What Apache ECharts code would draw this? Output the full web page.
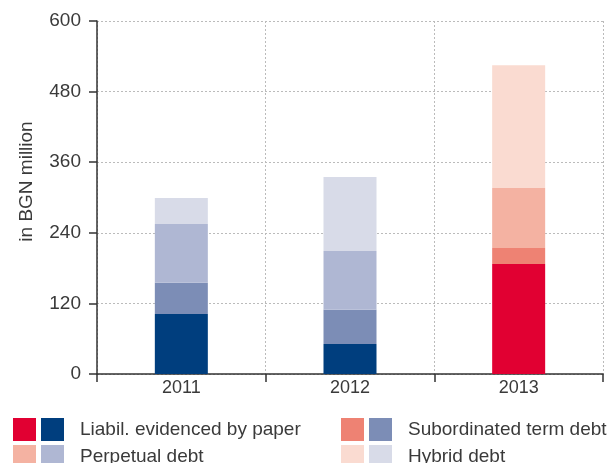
<!DOCTYPE html>
<html>
<head>
<meta charset="utf-8">
<script src="https://cdn.jsdelivr.net/npm/echarts@6/dist/echarts.min.js"></script>
<style>
html,body{margin:0;padding:0;background:#fff;}
#chart{width:611px;height:463px;}
</style>
</head>
<body>
<div id="chart"></div>
<script>
var categories = ['2011', '2012', '2013'];
var seriesNames = ['Liabil. evidenced by paper', 'Subordinated term debt', 'Perpetual debt', 'Hybrid debt'];
var paperValues = [102, 51, 187];
var subordinatedValues = [53, 58, 27];
var perpetualValues = [100, 100, 102];
var hybridValues = [44, 126, 209];
var yTicks = [0, 120, 240, 360, 480, 600];
var blueColors = ['#003e7e', '#7c8db6', '#afb7d3', '#d8dbe8'];
var redColors = ['#e10032', '#ee8273', '#f4b2a2', '#fadbd1'];
var redCategory = '2013';

var allValues = [paperValues, subordinatedValues, perpetualValues, hybridValues];
var FONT = 'Liberation Sans';
var TXT = '#3a3a3a';

var series = [];
seriesNames.forEach(function (name, i) {
  series.push({
    name: name,
    type: 'bar',
    stack: 'total',
    barWidth: 53,
    itemStyle: { color: blueColors[i] },
    data: categories.map(function (c, j) { return c === redCategory ? '-' : allValues[i][j]; })
  });
});
seriesNames.forEach(function (name, i) {
  series.push({
    name: name + ' ',
    type: 'bar',
    stack: 'total',
    barWidth: 53,
    itemStyle: { color: redColors[i] },
    data: categories.map(function (c, j) { return c === redCategory ? allValues[i][j] : '-'; })
  });
});

function legendBlock(left, names, showText) {
  return {
    orient: 'vertical',
    left: left,
    top: 418,
    height: 80,
    itemWidth: 23,
    itemHeight: 23,
    itemGap: 4,
    padding: 0,
    selectedMode: false,
    icon: 'rect',
    data: names,
    formatter: showText ? function (n) { return n; } : function () { return ''; },
    textStyle: { fontFamily: FONT, fontSize: 19, color: TXT, padding: [0, 0, 0, 11] }
  };
}

var chart = echarts.init(document.getElementById('chart'), null, { renderer: 'canvas' });
chart.setOption({
  animation: false,
  backgroundColor: '#ffffff',
  grid: { left: 97, right: 8, top: 21, bottom: 89 },
  legend: [
    legendBlock(13, [seriesNames[0] + ' ', seriesNames[2] + ' '], false),
    legendBlock(41, [seriesNames[0], seriesNames[2]], true),
    legendBlock(341, [seriesNames[1] + ' ', seriesNames[3] + ' '], false),
    legendBlock(369, [seriesNames[1], seriesNames[3]], true)
  ],
  xAxis: {
    type: 'category',
    data: categories,
    axisLine: { lineStyle: { color: '#333', width: 1.5 } },
    axisTick: { show: true, length: 8, lineStyle: { color: '#333', width: 1.5 } },
    axisLabel: { fontFamily: FONT, fontSize: 18, color: TXT, margin: 5 },
    splitLine: { show: true, lineStyle: { color: '#bbbbbb', type: [2, 2], width: 1 } }
  },
  yAxis: {
    type: 'value',
    min: yTicks[0],
    max: yTicks[yTicks.length - 1],
    interval: yTicks[1] - yTicks[0],
    name: 'in BGN million',
    nameLocation: 'middle',
    nameGap: 61,
    nameTextStyle: { fontFamily: FONT, fontSize: 19, color: TXT, padding: [0, 0, 0, 32] },
    axisLine: { show: true, lineStyle: { color: '#333', width: 1.5 } },
    axisTick: { show: true, length: 8, lineStyle: { color: '#333', width: 1.5 } },
    axisLabel: { fontFamily: FONT, fontSize: 19, color: TXT, margin: 16 },
    splitLine: { show: true, lineStyle: { color: '#bbbbbb', type: [2, 2], width: 1 } }
  },
  series: series
});
</script>
</body>
</html>
